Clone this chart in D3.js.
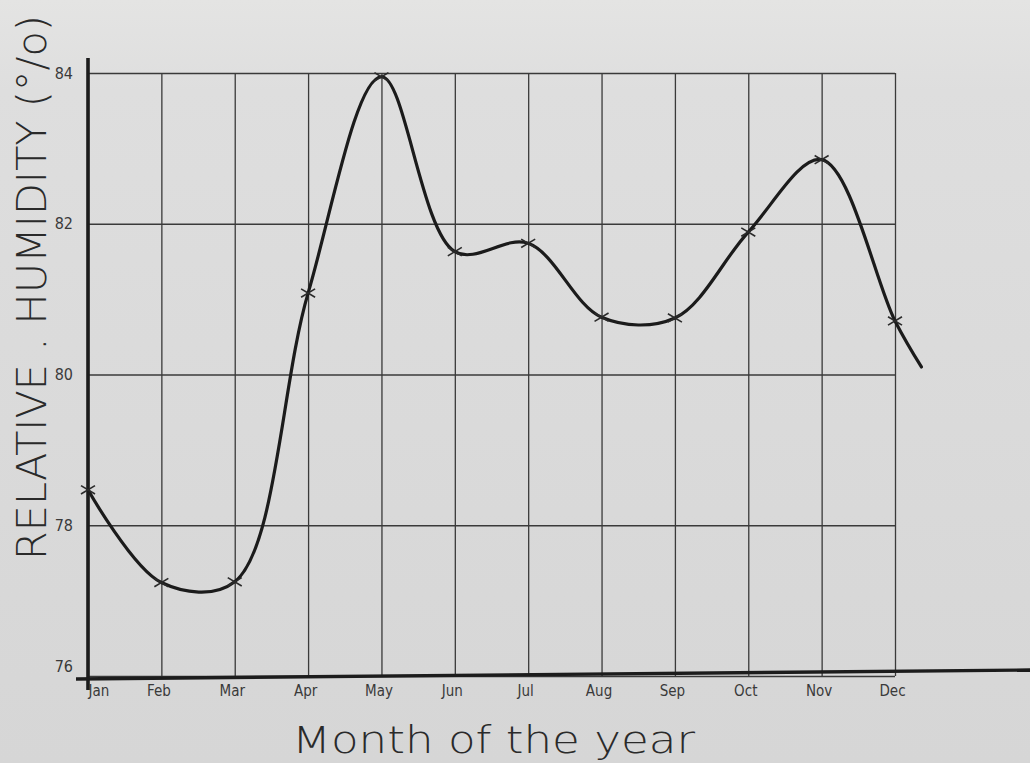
<!DOCTYPE html>
<html>
<head>
<meta charset="utf-8">
<script src="https://cdn.jsdelivr.net/npm/d3@7"></script>
<style>
html,body{margin:0;padding:0;background:#dcdcdc;}
svg{display:block;}
</style>
</head>
<body>
<svg id="chart" width="1030" height="763"></svg>
<script>
// ---- data ----
const months = ["Jan","Feb","Mar","Apr","May","Jun","Jul","Aug","Sep","Oct","Nov","Dec"];
const humidity = [78.47, 77.24, 77.25, 81.08, 83.95, 81.63, 81.74, 80.76, 80.75, 81.89, 82.85, 80.71];
// the hand-drawn curve runs on a little past December
const tailPosition = [11.36];
const tailValue = [80.1];
const yTicks = [76, 78, 80, 82, 84];
const yTitle = "RELATIVE . HUMIDITY (°/o)";
const xTitle = "Month of the year";

(function(){
const svg = d3.select("#chart");
const W = 1030, H = 763;
const mLeft = 88, mRight = 895, mTop = 73, mBottom = 676;

// background paper
const defs = svg.append("defs");
const g0 = defs.append("linearGradient").attr("id","paper").attr("x1",0).attr("y1",0).attr("x2",0).attr("y2",1);
g0.append("stop").attr("offset","0%").attr("stop-color","#e4e4e3");
g0.append("stop").attr("offset","12%").attr("stop-color","#dedede");
g0.append("stop").attr("offset","100%").attr("stop-color","#d6d6d6");
svg.append("rect").attr("width",W).attr("height",H).attr("fill","url(#paper)");

const x = d3.scaleLinear().domain([0, months.length - 1]).range([mLeft, mRight]);
const y = d3.scaleLinear().domain([76, 84]).range([mBottom, mTop]);

const tickFont = "'Liberation Sans Narrow','DejaVu Sans Condensed','Liberation Sans',sans-serif";

// vertical grid (one line per month)
const xAxis = d3.axisBottom(x)
  .tickValues(d3.range(months.length))
  .tickFormat(i => months[i])
  .tickSize(-(mBottom - mTop))
  .tickPadding(11);
const gx = svg.append("g").attr("transform", `translate(0,${mBottom})`).call(xAxis);
gx.select(".domain").remove();
gx.selectAll(".tick line").attr("stroke","#3a3a3a").attr("stroke-width",1.3);
gx.selectAll(".tick text")
  .attr("fill","#3a3a3a")
  .attr("font-family",tickFont)
  .attr("font-size",15)
  .attr("font-weight",300)
  .attr("dx",-3)
  .attr("dy","0.6em");
gx.selectAll(".tick text").filter((d,i)=>i===0).attr("text-anchor","start").attr("dx",0);

// horizontal grid
const yAxis = d3.axisLeft(y)
  .tickValues(yTicks)
  .tickSize(-(mRight - mLeft))
  .tickPadding(15);
const gy = svg.append("g").attr("transform", `translate(${mLeft},0)`).call(yAxis);
gy.select(".domain").remove();
gy.selectAll(".tick line").attr("stroke","#3a3a3a").attr("stroke-width",1.3);
gy.selectAll(".tick text")
  .attr("fill","#3a3a3a")
  .attr("font-family",tickFont)
  .attr("font-size",16)
  .attr("font-weight",300);
gy.selectAll(".tick text").filter(d=>d===76).attr("dy","-0.3em");

// axes lines
svg.append("line").attr("x1",mLeft).attr("x2",mLeft).attr("y1",58).attr("y2",mBottom+14)
  .attr("stroke","#1c1c1c").attr("stroke-width",3.6);
svg.append("line").attr("x1",76).attr("x2",W).attr("y1",mBottom+3).attr("y2",mBottom-6)
  .attr("stroke","#1c1c1c").attr("stroke-width",3.4);

// curve
const pts = humidity.map((v,i)=>[i, v]);
const curvePts = pts.concat(tailPosition.map((p,i)=>[p, tailValue[i]]));
const line = d3.line().x(d=>x(d[0])).y(d=>y(d[1])).curve(d3.curveCatmullRom.alpha(0.5));
svg.append("path").attr("d", line(curvePts))
  .attr("fill","none").attr("stroke","#1b1b1b").attr("stroke-width",3.2)
  .attr("stroke-linecap","round").attr("stroke-linejoin","round");

// cross markers
const mk = svg.append("g").attr("stroke","#2a2a2a").attr("stroke-width",1.6);
pts.forEach(([i,v])=>{
  const cx = x(i), cy = y(v), s = 7;
  mk.append("line").attr("x1",cx-s).attr("y1",cy-s*0.6).attr("x2",cx+s).attr("y2",cy+s*0.6);
  mk.append("line").attr("x1",cx-s).attr("y1",cy+s*0.6).attr("x2",cx+s).attr("y2",cy-s*0.6);
});

// titles
svg.append("text")
  .attr("transform","translate(46,560) rotate(-90)")
  .attr("x",0).attr("y",0)
  .attr("textLength",545).attr("lengthAdjust","spacingAndGlyphs")
  .attr("font-family","'DejaVu Sans','Open Sans',sans-serif")
  .attr("font-weight",300)
  .attr("font-size",40)
  .attr("fill","#2a2a2a")
  .text(yTitle);

svg.append("text")
  .attr("x",292).attr("y",753)
  .attr("textLength",403).attr("lengthAdjust","spacingAndGlyphs")
  .attr("font-family","'DejaVu Sans','Open Sans',sans-serif")
  .attr("font-weight",300)
  .attr("font-size",37)
  .attr("fill","#2a2a2a")
  .text(xTitle);
})();
</script>
</body>
</html>
